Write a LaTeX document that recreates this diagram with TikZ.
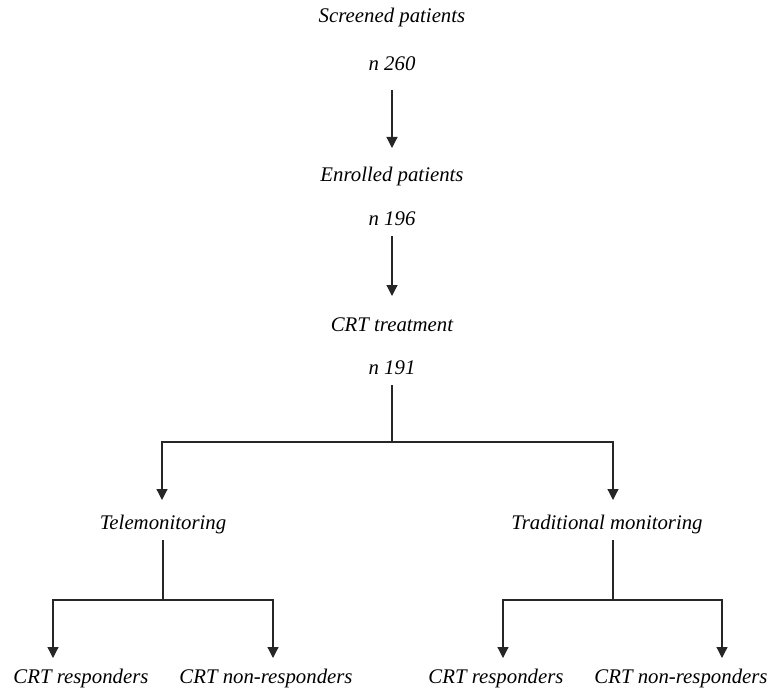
\documentclass[tikz,border=0pt]{standalone}
\usepackage{fontspec}
\setmainfont{Liberation Serif}
\usetikzlibrary{arrows.meta}
\begin{document}
\begin{tikzpicture}[x=1pt,y=-1pt,
  lbl/.style={font=\fontsize{20.8}{24}\selectfont\itshape, inner sep=0pt, anchor=center},
  arr/.style={-{Triangle[width=11pt,length=11pt]}, line width=1.2pt, draw=black!85},
  ln/.style={line width=1.2pt, draw=black!85}]
\useasboundingbox (0,0) rectangle (771,690);
% text nodes
\node[lbl] (s1) at (392,17) {Screened patients};
\node[lbl] (s2) at (392,64) {n 260};
\node[lbl] (e1) at (392,176) {Enrolled patients};
\node[lbl] (e2) at (392,219) {n 196};
\node[lbl] (c1) at (392,325) {CRT treatment};
\node[lbl] (c2) at (392,368) {n 191};
\node[lbl] (tm) at (163,524) {Telemonitoring};
\node[lbl] (tr) at (607,524) {Traditional monitoring};
\node[lbl] (r1) at (81,678) {CRT responders};
\node[lbl] (n1) at (266,678) {CRT non-responders};
\node[lbl] (r2) at (496,678) {CRT responders};
\node[lbl] (n2) at (681,678) {CRT non-responders};
% connector coordinates
\coordinate (a1) at (392,90);
\coordinate (a2) at (392,148);
\coordinate (b1) at (392,236);
\coordinate (b2) at (392,296);
\coordinate (c3) at (392,385);
\coordinate (cj) at (392,442);
\coordinate (cl) at (162,442);
\coordinate (cr) at (613,442);
\coordinate (tmA) at (162,500);
\coordinate (trA) at (613,500);
\coordinate (t1) at (163,540);
\coordinate (tj) at (163,600);
\coordinate (tl) at (53,600);
\coordinate (tr1) at (273,600);
\coordinate (r1A) at (53,658);
\coordinate (n1A) at (273,658);
\coordinate (u1) at (613,540);
\coordinate (uj) at (613,600);
\coordinate (ul) at (503,600);
\coordinate (ur) at (722,600);
\coordinate (r2A) at (503,658);
\coordinate (n2A) at (722,658);
% connectors
\draw[arr] (a1) -- (a2);
\draw[arr] (b1) -- (b2);
\draw[ln] (c3) -- (cj);
\draw[arr] (cj) -- (cl) -- (tmA);
\draw[arr] (cj) -- (cr) -- (trA);
\draw[ln] (t1) -- (tj);
\draw[arr] (tj) -- (tl) -- (r1A);
\draw[arr] (tj) -- (tr1) -- (n1A);
\draw[ln] (u1) -- (uj);
\draw[arr] (uj) -- (ul) -- (r2A);
\draw[arr] (uj) -- (ur) -- (n2A);
\end{tikzpicture}
\end{document}
